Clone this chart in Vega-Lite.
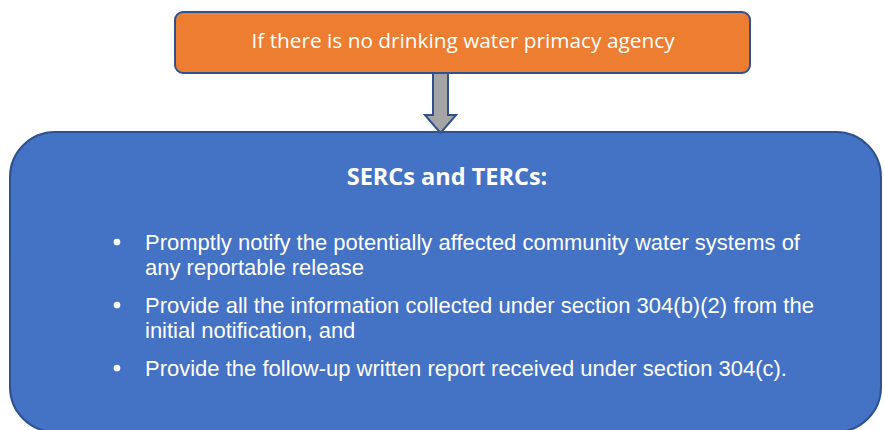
{
  "$schema": "https://vega.github.io/schema/vega-lite/v6.json",
  "width": 884,
  "height": 430,
  "padding": 0,
  "autosize": {"type": "none"},
  "background": "#ffffff",
  "config": {"view": {"stroke": null}},
  "datasets": {
    "boxes": [
      {"name": "main", "x": 10, "x2": 881, "y": 132, "y2": 432},
      {"name": "top", "x": 175, "x2": 750, "y": 12, "y2": 73}
    ],
    "arrow": [{"x": 440.5, "y": 103}],
    "texts": [
      {"role": "header", "x": 463, "y": 42, "label": "If there is no drinking water primacy agency"},
      {"role": "title", "x": 447, "y": 178, "label": "SERCs and TERCs:"},
      {"role": "body", "x": 145, "y": 243, "label": "Promptly notify the potentially affected community water systems of"},
      {"role": "body", "x": 145, "y": 268, "label": "any reportable release"},
      {"role": "body", "x": 145, "y": 306, "label": "Provide all the information collected under section 304(b)(2) from the"},
      {"role": "body", "x": 145, "y": 331, "label": "initial notification, and"},
      {"role": "body", "x": 145, "y": 369, "label": "Provide the follow-up written report received under section 304(c)."}
    ],
    "bullets": [
      {"x": 117, "y": 242},
      {"x": 117, "y": 305},
      {"x": 117, "y": 368}
    ]
  },
  "layer": [
    {
      "data": {"name": "boxes"},
      "transform": [{"filter": "datum.name === 'main'"}],
      "mark": {"type": "rect", "fill": "#4472C4", "stroke": "#2F528F", "strokeWidth": 2, "cornerRadius": 45},
      "encoding": {
        "x": {"field": "x", "type": "quantitative", "scale": {"domain": [0, 884], "nice": false, "zero": false}, "axis": null},
        "x2": {"field": "x2"},
        "y": {"field": "y", "type": "quantitative", "scale": {"domain": [0, 430], "nice": false, "zero": false, "reverse": true}, "axis": null},
        "y2": {"field": "y2"}
      }
    },
    {
      "data": {"name": "boxes"},
      "transform": [{"filter": "datum.name === 'top'"}],
      "mark": {"type": "rect", "fill": "#ED7D31", "stroke": "#2F528F", "strokeWidth": 2, "cornerRadius": 8},
      "encoding": {
        "x": {"field": "x", "type": "quantitative", "axis": null},
        "x2": {"field": "x2"},
        "y": {"field": "y", "type": "quantitative", "axis": null},
        "y2": {"field": "y2"}
      }
    },
    {
      "data": {"name": "arrow"},
      "mark": {"type": "point", "shape": "M-0.25,-1L0.25,-1L0.25,0.4L0.52,0.4L0,1L-0.52,0.4L-0.25,0.4Z", "size": 3600, "filled": true, "fill": "#A5A5A5", "stroke": "#2F528F", "strokeWidth": 2, "opacity": 1},
      "encoding": {
        "x": {"field": "x", "type": "quantitative", "axis": null},
        "y": {"field": "y", "type": "quantitative", "axis": null}
      }
    },
    {
      "data": {"name": "texts"},
      "transform": [{"filter": "datum.role === 'header'"}],
      "mark": {"type": "text", "font": "Open Sans", "fontSize": 20.8, "color": "#ffffff", "align": "center", "baseline": "middle"},
      "encoding": {
        "x": {"field": "x", "type": "quantitative", "axis": null},
        "y": {"field": "y", "type": "quantitative", "axis": null},
        "text": {"field": "label"}
      }
    },
    {
      "data": {"name": "texts"},
      "transform": [{"filter": "datum.role === 'title'"}],
      "mark": {"type": "text", "font": "Open Sans", "fontSize": 23.5, "fontWeight": "bold", "color": "#ffffff", "align": "center", "baseline": "middle"},
      "encoding": {
        "x": {"field": "x", "type": "quantitative", "axis": null},
        "y": {"field": "y", "type": "quantitative", "axis": null},
        "text": {"field": "label"}
      }
    },
    {
      "data": {"name": "texts"},
      "transform": [{"filter": "datum.role === 'body'"}],
      "mark": {"type": "text", "font": "Liberation Sans", "fontSize": 22, "color": "#ffffff", "align": "left", "baseline": "middle"},
      "encoding": {
        "x": {"field": "x", "type": "quantitative", "axis": null},
        "y": {"field": "y", "type": "quantitative", "axis": null},
        "text": {"field": "label"}
      }
    },
    {
      "data": {"name": "bullets"},
      "mark": {"type": "point", "shape": "circle", "filled": true, "size": 45, "color": "#ffffff", "opacity": 1},
      "encoding": {
        "x": {"field": "x", "type": "quantitative", "axis": null},
        "y": {"field": "y", "type": "quantitative", "axis": null}
      }
    }
  ]
}
